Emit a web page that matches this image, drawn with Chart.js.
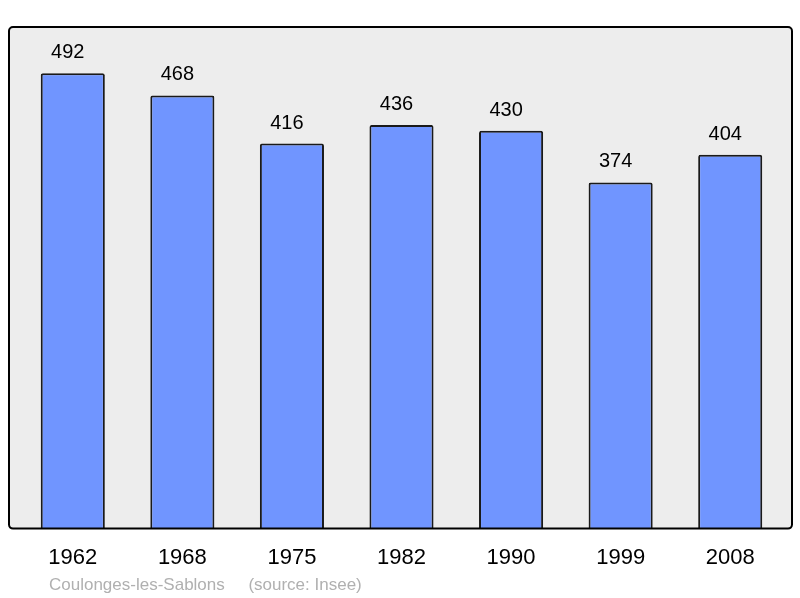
<!DOCTYPE html>
<html>
<head>
<meta charset="utf-8">
<script src="https://cdn.jsdelivr.net/npm/chart.js@4"></script>
<style>
    html, body { margin: 0; padding: 0; background: #ffffff; }
    #wrap { width: 800px; height: 598px; }
</style>
</head>
<body>
<div id="wrap"><canvas id="popChart" width="800" height="598"></canvas></div>
<script>
// data
const years = ["1962", "1968", "1975", "1982", "1990", "1999", "2008"];
const population = [492, 468, 416, 436, 430, 374, 404];
const sourceText = "Coulonges-les-Sablons     (source: Insee)";

// frame behind / around the bars
const framePlugin = {
    id: "frame",
    beforeDatasetsDraw(chart) {
        const a = chart.chartArea;
        const ctx = chart.ctx;
        ctx.save();
        ctx.beginPath();
        ctx.roundRect(a.left - 9, a.top, a.right - a.left + 16, a.bottom - a.top, 4);
        ctx.fillStyle = "#ededed";
        ctx.fill();
        ctx.restore();
    },
    afterDatasetsDraw(chart) {
        const a = chart.chartArea;
        const ctx = chart.ctx;
        ctx.save();
        ctx.beginPath();
        ctx.roundRect(a.left - 9, a.top, a.right - a.left + 16, a.bottom - a.top, 4);
        ctx.lineWidth = 2;
        ctx.strokeStyle = "#000000";
        ctx.stroke();

        // value labels (sit a little left of the bar centre in the original)
        ctx.fillStyle = "#000000";
        ctx.font = "20px 'Liberation Sans', Arial, sans-serif";
        ctx.textAlign = "center";
        ctx.textBaseline = "alphabetic";
        chart.getDatasetMeta(0).data.forEach((bar, i) => {
            ctx.fillText(population[i], bar.x - 5, bar.y - 15);
        });

        // source line
        ctx.fillStyle = "#b0b0b0";
        ctx.font = "17px 'Liberation Sans', Arial, sans-serif";
        ctx.textAlign = "left";
        ctx.textBaseline = "middle";
        ctx.fillText(sourceText, 49, 585);
        ctx.restore();
    }
};

new Chart(document.getElementById("popChart"), {
    type: "bar",
    data: {
        labels: years,
        datasets: [{
            data: population,
            backgroundColor: "#7095ff",
            borderColor: "#1a1a1a",
            borderWidth: 2,
            borderRadius: 2,
            borderSkipped: "bottom",
            categoryPercentage: 1,
            barPercentage: 0.585
        }]
    },
    options: {
        responsive: false,
        animation: false,
        layout: {
            padding: { left: 18, right: 15, top: 27, bottom: 11 }
        },
        plugins: {
            legend: { display: false },
            tooltip: { enabled: false }
        },
        scales: {
            x: {
                grid: { display: false, drawTicks: false },
                border: { display: false },
                ticks: {
                    color: "#000000",
                    padding: 16,
                    font: { size: 22, family: "'Liberation Sans', Arial, sans-serif" }
                }
            },
            y: {
                display: false,
                min: 0,
                max: 542
            }
        }
    },
    plugins: [framePlugin]
});
</script>
</body>
</html>
